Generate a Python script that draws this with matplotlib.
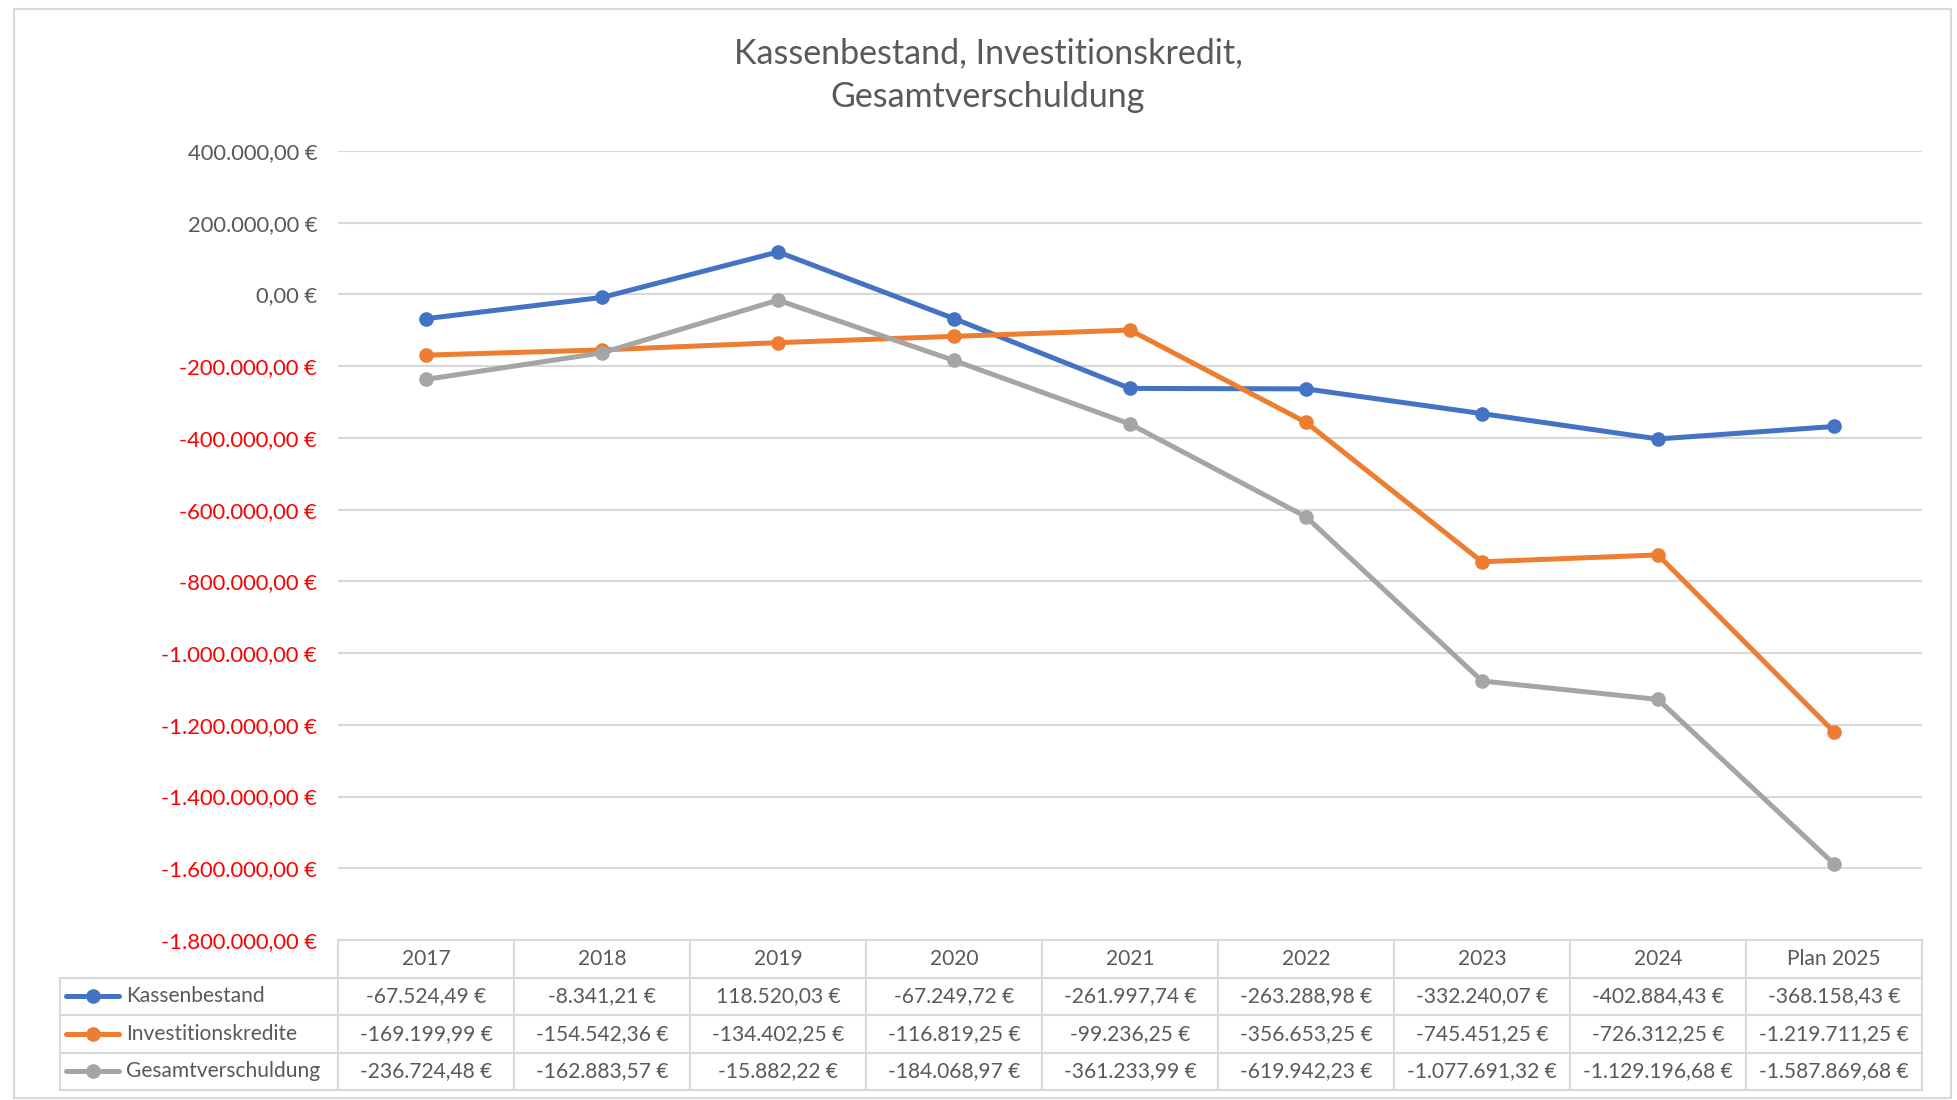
import numpy as np
import matplotlib
matplotlib.use("Agg")
import matplotlib.pyplot as plt
from matplotlib.patches import Rectangle
from matplotlib.lines import Line2D

plt.rcParams['font.family'] = ['Lato', 'DejaVu Sans']

years = ['2017', '2018', '2019', '2020', '2021', '2022', '2023', '2024', 'Plan 2025']
kassenbestand = [-67524.49, -8341.21, 118520.03, -67249.72, -261997.74,
                 -263288.98, -332240.07, -402884.43, -368158.43]
investitionskredite = [-169199.99, -154542.36, -134402.25, -116819.25, -99236.25,
                       -356653.25, -745451.25, -726312.25, -1219711.25]
gesamtverschuldung = [-236724.48, -162883.57, -15882.22, -184068.97, -361233.99,
                      -619942.23, -1077691.32, -1129196.68, -1587869.68]
series_names = ['Kassenbestand', 'Investitionskredite', 'Gesamtverschuldung']
colors = ['#4472C4', '#ED7D31', '#A5A5A5']
title = 'Kassenbestand, Investitionskredit,\nGesamtverschuldung'

W, H = 1957, 1100
fig = plt.figure(figsize=(W / 100, H / 100), dpi=100)

def fx(px):
    return px / W

def fy(py):
    return 1 - py / H

text_col = '#595959'
grid_col = '#D9D9D9'
fs_tick = 15.8
fs_tab = 15.1

# outer chart border
fig.patches.append(Rectangle((fx(14), fy(1098)), fx(1951) - fx(14), fy(9) - fy(1098),
                             transform=fig.transFigure, fill=False,
                             edgecolor=grid_col, lw=1.5))

left_px, right_px, top_px, bot_px = 338, 1922, 151, 940
ax = fig.add_axes([fx(left_px), fy(bot_px), fx(right_px) - fx(left_px), (bot_px - top_px) / H])

x = np.arange(len(years))
all_series = [kassenbestand, investitionskredite, gesamtverschuldung]
for vals, name, c in zip(all_series, series_names, colors):
    ax.plot(x, vals, color=c, lw=3.6, marker='o', markersize=9.5, label=name,
            solid_capstyle='round', zorder=3)

ax.set_xlim(-0.5, len(years) - 0.5)
ax.set_ylim(-1800000, 400000)
yticks = np.arange(-1800000, 400001, 200000)
ax.set_yticks(yticks)

def euro(v):
    s = f'{abs(v):,.2f}'.replace(',', 'X').replace('.', ',').replace('X', '.')
    return ('-' if v < 0 else '') + s + ' €'

ax.set_yticklabels([euro(v) for v in yticks])
for lab, v in zip(ax.get_yticklabels(), yticks):
    lab.set_color('#FF0000' if v < 0 else text_col)
    lab.set_fontsize(fs_tick)
ax.tick_params(axis='y', length=0, pad=15)
ax.set_xticks([])
ax.grid(axis='y', color=grid_col, lw=1.5)
ax.set_axisbelow(True)
for s in ax.spines.values():
    s.set_visible(False)

fig.text(fx(988), fy(75), title, ha='center', va='center', fontsize=24.5,
         color=text_col, linespacing=1.45)

# data table below the plot
unit = (right_px - left_px) / len(years)
tleft = 60
tax = fig.add_axes([fx(tleft), fy(1090), fx(right_px) - fx(tleft), (1090 - bot_px) / H])
tax.set_xlim(-0.5 - (left_px - tleft) / unit, len(years) - 0.5)
tax.set_ylim(4, 0)
tax.axis('off')

lkw = dict(color=grid_col, lw=1.5, clip_on=False)
# horizontal lines
tax.plot([-0.5, len(years) - 0.5], [0, 0], **lkw)
xl = -0.5 - (left_px - tleft) / unit
for r in [1, 2, 3, 4]:
    tax.plot([xl, len(years) - 0.5], [r, r], **lkw)
# vertical lines
for i in range(len(years) + 1):
    tax.plot([i - 0.5, i - 0.5], [0, 4], **lkw)
tax.plot([xl, xl], [1, 4], **lkw)

for i, yr in enumerate(years):
    tax.text(i, 0.5, yr, ha='center', va='center', fontsize=fs_tab, color=text_col)

for r, (vals, name, c) in enumerate(zip(all_series, series_names, colors)):
    yrow = r + 1.5
    for i, v in enumerate(vals):
        tax.text(i, yrow, euro(v), ha='center', va='center', fontsize=fs_tab, color=text_col)
    lx0 = xl + 6 / unit
    lx1 = xl + 59 / unit
    tax.add_line(Line2D([lx0, lx1], [yrow, yrow], color=c, lw=3.6,
                        solid_capstyle='round', clip_on=False))
    tax.plot([(lx0 + lx1) / 2], [yrow], marker='o', markersize=9.5, color=c, clip_on=False)
    tax.text(xl + 66 / unit, yrow, name, ha='left', va='center', fontsize=fs_tab, color=text_col)

fig.savefig('out.png', dpi=100, facecolor='white')
